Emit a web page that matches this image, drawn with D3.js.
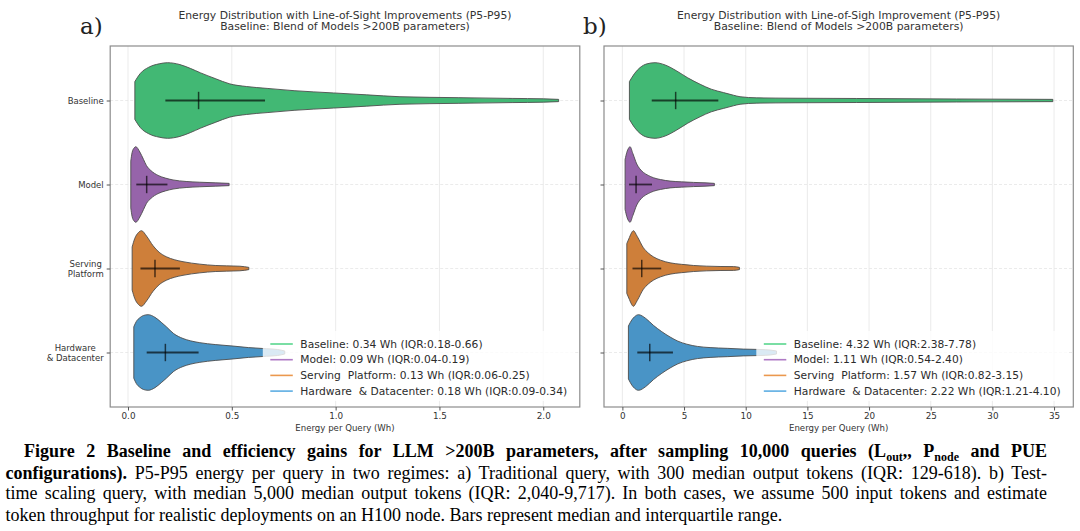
<!DOCTYPE html>
<html>
<head>
<meta charset="utf-8">
<script src="https://cdn.jsdelivr.net/npm/d3@7"></script>
<style>
  body { margin: 0; background: #fff; }
  svg text { font-family: "DejaVu Sans", sans-serif; }
  .cap { font-family: "Liberation Serif", "Times New Roman", serif; font-size: 18px; fill: #000; }
</style>
</head>
<body>
<script>
// categories and labels
const categories = ["Baseline", "Model", "Serving Platform", "Hardware & Datacenter"];
const tickLines = [["Baseline"], ["Model"], ["Serving", "Platform"], ["Hardware", "& Datacenter"]];
const legendNames = ["Baseline", "Model", "Serving  Platform", "Hardware  & Datacenter"];

// a) traditional query: median and IQR (Wh)
const medianA = [0.34, 0.09, 0.13, 0.18];
const q1A = [0.18, 0.04, 0.06, 0.09];
const q3A = [0.66, 0.19, 0.25, 0.34];
// b) test-time scaling query
const medianB = [4.32, 1.11, 1.57, 2.22];
const q1B = [2.38, 0.54, 0.82, 1.21];
const q3B = [7.78, 2.40, 3.15, 4.10];

// violin outlines: [energy, relative half-width]
const baselineA = [[0.033,0.5],[0.06,0.72],[0.10,0.88],[0.15,0.97],[0.19,1.0],[0.25,0.95],[0.30,0.85],[0.35,0.73],[0.42,0.58],[0.49,0.44],[0.57,0.37],[0.67,0.32],[0.80,0.26],[0.99,0.2],[1.15,0.15],[1.31,0.1],[1.59,0.075],[1.85,0.055],[2.0,0.045],[2.074,0.03]];
const modelA = [[0.0135,0.62],[0.02,0.85],[0.03,0.97],[0.0375,1.0],[0.057,0.86],[0.075,0.66],[0.089,0.5],[0.11,0.37],[0.145,0.24],[0.18,0.17],[0.217,0.12],[0.28,0.08],[0.346,0.06],[0.42,0.045],[0.487,0.03]];
const servingA = [[0.02,0.57],[0.033,0.8],[0.05,0.95],[0.065,1.0],[0.089,0.86],[0.121,0.6],[0.15,0.43],[0.185,0.31],[0.225,0.23],[0.265,0.18],[0.346,0.115],[0.42,0.08],[0.474,0.07],[0.539,0.06],[0.582,0.03]];
const hardwareA = [[0.028,0.68],[0.04,0.82],[0.057,0.92],[0.075,0.98],[0.097,1.0],[0.13,0.93],[0.16,0.8],[0.185,0.68],[0.22,0.5],[0.265,0.37],[0.30,0.31],[0.346,0.26],[0.42,0.21],[0.506,0.17],[0.58,0.13],[0.667,0.1],[0.72,0.08],[0.755,0.04]];

const baselineB = [[0.57,0.5],[1.0,0.72],[1.43,0.87],[2.0,0.97],[2.65,1.0],[3.46,0.94],[4.41,0.78],[5.3,0.6],[6.3,0.43],[7.2,0.3],[8.19,0.21],[9.0,0.14],[9.54,0.1],[10.9,0.07],[14,0.06],[19,0.053],[27.1,0.04],[34.9,0.03]];
const modelB = [[0.22,0.66],[0.36,0.85],[0.5,0.96],[0.62,1.0],[0.85,0.82],[1.17,0.54],[1.4,0.42],[1.7,0.32],[2.1,0.24],[2.51,0.18],[3.1,0.13],[3.87,0.09],[4.8,0.07],[5.76,0.055],[6.7,0.045],[7.46,0.03]];
const servingB = [[0.36,0.66],[0.57,0.82],[0.75,0.95],[0.89,1.0],[1.2,0.85],[1.7,0.55],[2.1,0.41],[2.51,0.31],[3.1,0.22],[3.87,0.15],[4.8,0.11],[5.76,0.08],[6.8,0.062],[7.92,0.053],[9.0,0.05],[9.49,0.03]];
const hardwareB = [[0.49,0.7],[0.76,0.86],[1.0,0.95],[1.3,1.0],[1.9,0.9],[2.51,0.72],[3.2,0.55],[3.87,0.41],[4.5,0.3],[5.22,0.22],[6.1,0.16],[7.11,0.13],[8.5,0.11],[9.81,0.09],[11.16,0.08],[12.0,0.065],[12.5,0.04]];

const ticksA = [0, 0.5, 1.0, 1.5, 2.0];
const ticksB = [0, 5, 10, 15, 20, 25, 30, 35];

const fills = ["#42b874", "#9664aa", "#ce7f3a", "#4994c6"];
const lineColors = ["#2ecc71", "#9b59b6", "#e67e22", "#3498db"];

const W = 1080, H = 531;
const frameTop = 46, frameBottom = 407;

const svg = d3.select("body").append("svg")
  .attr("width", W).attr("height", H);

const y = d3.scalePoint()
  .domain(categories)
  .range([frameTop + 54.5, frameBottom - 54.5]);
const half = y.step() * 0.45;

function drawPanel(p) {
  const x = d3.scaleLinear().domain(p.domain).range(p.range);
  const [x0, x1] = p.range;
  const g = svg.append("g");

  // grid
  g.selectAll(".vg").data(p.ticks).enter().append("line")
    .attr("x1", d => x(d)).attr("x2", d => x(d))
    .attr("y1", frameTop).attr("y2", frameBottom)
    .attr("stroke", "#e6e6e6").attr("stroke-width", 0.8);
  g.selectAll(".hg").data(categories).enter().append("line")
    .attr("x1", x0).attr("x2", x1)
    .attr("y1", d => y(d)).attr("y2", d => y(d))
    .attr("stroke", "#e6e6e6").attr("stroke-width", 0.8)
    .attr("stroke-dasharray", "3,2");

  // violins
  p.profiles.forEach((prof, i) => {
    const yc = y(categories[i]);
    const area = d3.area()
      .x(d => x(d[0]))
      .y0(d => yc - d[1] * half)
      .y1(d => yc + d[1] * half)
      .curve(d3.curveMonotoneX);
    g.append("path").datum(prof)
      .attr("d", area)
      .attr("fill", fills[i])
      .attr("stroke", "#4d4d4d")
      .attr("stroke-width", 0.9);
  });

  // median + IQR crosses
  categories.forEach((c, i) => {
    const yc = y(c);
    g.append("line")
      .attr("x1", x(p.q1[i])).attr("x2", x(p.q3[i]))
      .attr("y1", yc).attr("y2", yc)
      .attr("stroke", "#000").attr("stroke-opacity", 0.65).attr("stroke-width", 1.8);
    g.append("line")
      .attr("x1", x(p.median[i])).attr("x2", x(p.median[i]))
      .attr("y1", yc - 8.7).attr("y2", yc + 8.7)
      .attr("stroke", "#000").attr("stroke-opacity", 0.65).attr("stroke-width", 1.5);
  });

  // legend
  g.append("rect")
    .attr("x", x1 - 317).attr("y", 331)
    .attr("width", 312).attr("height", 70)
    .attr("fill", "#fff").attr("fill-opacity", 0.8);
  categories.forEach((c, i) => {
    const ly = 344 + i * 15.7;
    g.append("line")
      .attr("x1", x1 - 309.5).attr("x2", x1 - 287)
      .attr("y1", ly).attr("y2", ly)
      .attr("stroke", lineColors[i]).attr("stroke-opacity", 0.8).attr("stroke-width", 1.6);
    g.append("text")
      .attr("x", x1 - 279.5).attr("y", ly)
      .attr("dominant-baseline", "central")
      .style("white-space", "pre")
      .attr("font-size", 10.7).attr("fill", "#2b2b2b")
      .text(`${legendNames[i]}: ${p.median[i].toFixed(2)} Wh (IQR:${p.q1[i].toFixed(2)}-${p.q3[i].toFixed(2)})`);
  });

  // frame
  g.append("rect")
    .attr("x", x0).attr("y", frameTop)
    .attr("width", x1 - x0).attr("height", frameBottom - frameTop)
    .attr("fill", "none").attr("stroke", "#8c8c8c").attr("stroke-width", 1.2);

  // x axis
  const xa = g.append("g")
    .attr("transform", `translate(0,${frameBottom})`)
    .call(d3.axisBottom(x).tickValues(p.ticks).tickFormat(p.fmt).tickSize(3.5).tickPadding(2.5));
  xa.select(".domain").remove();
  xa.selectAll("line").attr("stroke", "#555");
  xa.selectAll("text").attr("font-size", 8.8).attr("fill", "#333")
    .attr("font-family", "DejaVu Sans");

  g.append("text")
    .attr("x", (x0 + x1) / 2).attr("y", 428)
    .attr("text-anchor", "middle").attr("dominant-baseline", "central")
    .attr("font-size", 8.6).attr("fill", "#333")
    .text("Energy per Query (Wh)");

  // y axis ticks
  const ya = g.append("g")
    .attr("transform", `translate(${x0},0)`)
    .call(d3.axisLeft(y).tickSize(3.5).tickFormat(""));
  ya.select(".domain").remove();
  ya.selectAll("line").attr("stroke", "#555");

  if (p.yLabels) {
    categories.forEach((c, i) => {
      const lines = tickLines[i];
      const t = g.append("text")
        .attr("font-size", 8.5).attr("fill", "#333")
        .attr("dominant-baseline", "central");
      lines.forEach((s, k) => {
        t.append("tspan")
          .attr("y", y(c) + (k - (lines.length - 1) / 2) * 10)
          .text(s);
      });
      const right = x0 - 6.5;
      if (lines.length === 1) {
        t.attr("text-anchor", "end").selectAll("tspan").attr("x", right);
      } else {
        const w = d3.max(t.selectAll("tspan").nodes(), n => n.getComputedTextLength());
        t.attr("text-anchor", "middle").selectAll("tspan").attr("x", right - w / 2);
      }
    });
  }

  // title
  p.title.forEach((s, k) => {
    g.append("text")
      .attr("x", (x0 + x1) / 2).attr("y", 15 + k * 11.7)
      .attr("text-anchor", "middle").attr("dominant-baseline", "central")
      .attr("font-size", 10.8).attr("fill", "#333")
      .text(s);
  });

  // panel letter
  g.append("text")
    .attr("x", p.letterX).attr("y", 34)
    .attr("font-size", 23).attr("fill", "#222")
    .style("font-family", "'DejaVu Serif', serif")
    .text(p.letter);
}

drawPanel({
  domain: [-0.0857, 2.176], range: [110.2, 579.8],
  ticks: ticksA, fmt: d3.format(".1f"),
  profiles: [baselineA, modelA, servingA, hardwareA],
  median: medianA, q1: q1A, q3: q3A,
  yLabels: true,
  title: ["Energy Distribution with Line-of-Sight Improvements (P5-P95)",
          "Baseline: Blend of Models >200B parameters)"],
  letter: "a)", letterX: 80
});

drawPanel({
  domain: [-1.49, 36.56], range: [604, 1073.3],
  ticks: ticksB, fmt: d3.format("d"),
  profiles: [baselineB, modelB, servingB, hardwareB],
  median: medianB, q1: q1B, q3: q3B,
  yLabels: false,
  title: ["Energy Distribution with Line-of-Sigh Improvement (P5-P95)",
          "Baseline: Blend of Models >200B parameters)"],
  letter: "b)", letterX: 583
});

// caption
const capRight = 1047;
function justify(t, left) {
  const n = t.node();
  const natural = n.getComputedTextLength();
  const spaces = (n.textContent.match(/ /g) || []).length;
  t.style("word-spacing", ((capRight - left - natural) / spaces) + "px");
}

const c1 = svg.append("text").attr("class", "cap").attr("x", 24).attr("y", 457)
  .attr("font-weight", "bold");
c1.append("tspan").text("Figure 2 Baseline and efficiency gains for LLM >200B parameters, after sampling 10,000 queries (L");
c1.append("tspan").attr("dy", 4).attr("font-size", 12).text("out");
c1.append("tspan").attr("dy", -4).text(",, P");
c1.append("tspan").attr("dy", 4).attr("font-size", 12).text("node");
c1.append("tspan").attr("dy", -4).text(" and PUE");
justify(c1, 24);

const c2 = svg.append("text").attr("class", "cap").attr("x", 5.5).attr("y", 478.7);
c2.append("tspan").attr("font-weight", "bold").text("configurations).");
c2.append("tspan").text(" P5-P95 energy per query in two regimes: a) Traditional query, with 300 median output tokens (IQR: 129-618). b) Test-");
justify(c2, 5.5);

const c3 = svg.append("text").attr("class", "cap").attr("x", 5.5).attr("y", 499.3)
  .text("time scaling query, with median 5,000 median output tokens (IQR: 2,040-9,717). In both cases, we assume 500 input tokens and estimate");
justify(c3, 5.5);

svg.append("text").attr("class", "cap").attr("x", 5.5).attr("y", 521)
  .text("token throughput for realistic deployments on an H100 node. Bars represent median and interquartile range.");
</script>
</body>
</html>
